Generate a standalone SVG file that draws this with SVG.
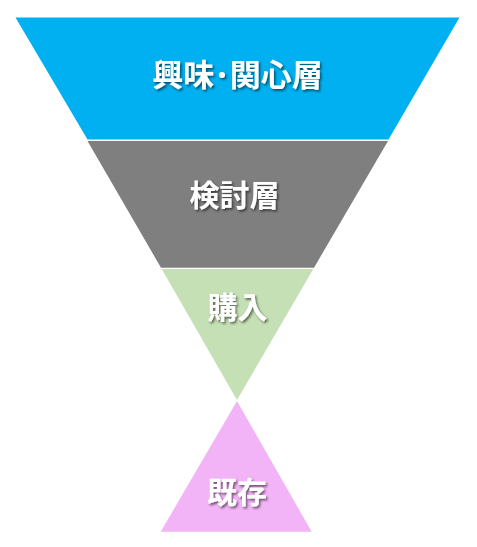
<svg xmlns="http://www.w3.org/2000/svg" width="477" height="547" viewBox="0 0 477 547">
<defs>
<filter id="sh" x="-20%" y="-30%" width="140%" height="160%">
<feDropShadow dx="1.5" dy="1.8" stdDeviation="1" flood-color="#000" flood-opacity="0.55"/>
</filter>
</defs>
<style>
.lbl{font-family:"Noto Sans CJK JP","Noto Sans CJK SC",sans-serif;font-weight:bold;font-size:30px;fill:#fff;text-anchor:middle;filter:url(#sh)}
</style>
<rect width="477" height="547" fill="#fff"/>
<g id="interest">
<polygon points="15.5,17.5 459.5,17.5 388.5,139.5 87.5,139.5" fill="#00B0F0"/>
<text class="lbl" x="237.5" y="86" style="font-size:31px">興味･関心層</text>
</g>
<g id="consider">
<polygon points="87.5,141 388,141 314,267.7 161,267.7" fill="#7F7F7F"/>
<text class="lbl" x="234.5" y="206">検討層</text>
</g>
<g id="purchase">
<polygon points="161.7,269 313.3,269 237,400" fill="#C5E0B4"/>
<text class="lbl" x="237.5" y="318">購入</text>
</g>
<g id="existing">
<polygon points="237,401 311.7,531.7 160.7,531.7" fill="#F2B4F6"/>
<text class="lbl" x="237" y="502.5">既存</text>
</g>
<g id="connectors"/>
</svg>
